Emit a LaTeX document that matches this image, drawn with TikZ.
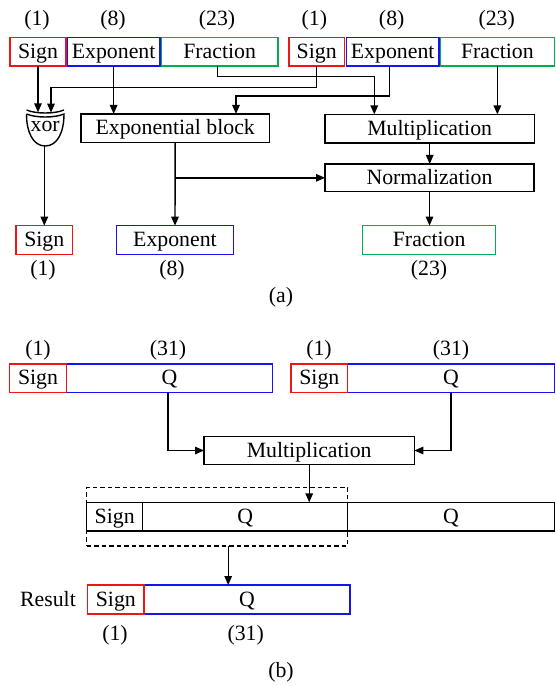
\documentclass[tikz,border=0pt]{standalone}
\usepackage{fontspec}
\setmainfont{Liberation Serif}
\usetikzlibrary{arrows.meta,positioning,fit}
\definecolor{sred}{RGB}{240,20,20}
\definecolor{sblue}{RGB}{20,20,240}
\definecolor{sgreen}{RGB}{0,176,80}

\begin{document}
\begin{tikzpicture}[x=1pt,y=-1pt,>={Triangle[length=9pt,width=7.5pt]},line width=1.4pt,
  every node/.style={font=\fontsize{21.8}{24}\selectfont,inner sep=0pt,outer sep=0pt},
  fld/.style={draw,minimum height=28.7pt,text height=16pt,text depth=2.8pt},
  redf/.style={fld,draw=sred},bluef/.style={fld,draw=sblue},greenf/.style={fld,draw=sgreen},
  blackf/.style={fld,draw=black}]
\useasboundingbox (0,0) rectangle (555,686);
% (a) two input words
\node[redf,minimum width=56pt] (sgnA) at (38,51.7) {Sign};
\node[bluef,minimum width=92.7pt,right=1.3pt of sgnA] (expA) {Exponent};
\node[greenf,minimum width=116.7pt,right=1.3pt of expA] (fracA) {Fraction};
\node[redf,minimum width=55.3pt] (sgnB) at (316.7,51.7) {Sign};
\node[bluef,minimum width=92.7pt,right=2pt of sgnB] (expB) {Exponent};
\node[greenf,minimum width=114pt,right=1.3pt of expB] (fracB) {Fraction};
\foreach \x/\t [count=\i] in {37/{(1)},113/{(8)},217/{(23)},314.3/{(1)},391.7/{(8)},496.7/{(23)}}
  \node (ta\i) at (\x,20) {\t};
% (a) blocks
\node[blackf,minimum width=188.3pt] (expblk) at (175.2,128.3) {Exponential block};
\node[blackf,minimum width=209.3pt] (multA) at (429.7,128.8) {Multiplication};
\node[blackf,minimum width=209pt,minimum height=27.7pt] (norm) at (429.5,177.8) {Normalization};
\node[redf,minimum width=56.7pt] (outS) at (44.3,240) {Sign};
\node[bluef,minimum width=116.6pt] (outE) at (175,240) {Exponent};
\node[greenf,minimum width=133pt] (outF) at (429.2,240) {Fraction};
\foreach \x/\t [count=\i] in {43/{(1)},172/{(8)},429/{(23)}}
  \node (ba\i) at (\x,270.5) {\t};
\node (capa) at (281,297) {(a)};
% xor gate
\draw (26.5,114) .. controls (26.5,132) and (33,146) .. (45.2,146) .. controls (57.5,146) and (64,132) .. (64,114) .. controls (54.5,118) and (36,118) .. (26.5,114);
\draw (26.5,110) .. controls (36,114) and (54.5,114) .. (64,110);
\node (xor) at (45.2,126.7) {xor};
\coordinate (xin1) at (38,112.3);
\coordinate (xin2) at (51,112.6);
\coordinate (xout) at (44.3,146);
\draw[->] (sgnA.south) -- (xin1);
\draw[->] (sgnB.south) -- ++(0,21.3) -| (xin2);
\draw[->] (expA.south) -- (expA.south |- expblk.north);
\draw[->] ([xshift=-3.4pt]expB.south) -- ++(0,30) -| ([xshift=60.8pt]expblk.north);
\draw[->] ([xshift=-2.4pt]fracA.south) -- ++(0,10.7) -| ([xshift=-55.4pt]multA.north);
\draw[->] (fracB.south) -- (fracB.south |- multA.north);
\draw[->] (multA.south) -- (multA.south |- norm.north);
\draw[->] (expblk.south) -- (outE.north);
\draw[->] (expblk.south |- norm.west) -- (norm.west);
\draw[->] (norm.south) -- (norm.south |- outF.north);
\draw[->] (xout) -- (xout |- outS.north);
% (b) two input words
\node[bluef,minimum width=205.6pt] (qC) at (169.5,378.3) {Q};
\node[redf,minimum width=57.4pt,left=0pt of qC] (sgnC) {Sign};
\node[bluef,minimum width=206.6pt] (qD) at (451,378.3) {Q};
\node[redf,minimum width=56.7pt,left=0pt of qD] (sgnD) {Sign};
\foreach \x/\t [count=\i] in {38/{(1)},168/{(31)},319/{(1)},451/{(31)}}
  \node (tb\i) at (\x,350) {\t};
\node[blackf,minimum width=210.3pt,minimum height=27.6pt] (multB) at (309.2,450.5) {Multiplication};
\draw[->] ([xshift=-1.5pt]qC.south) |- (multB.west);
\draw[->] (qD.south) |- (multB.east);
% (b) product and kept part
\node[blackf,minimum width=56pt] (sgnE) at (114.7,516.7) {Sign};
\node[blackf,minimum width=205pt,right=0pt of sgnE] (qE) {Q};
\node[blackf,minimum width=206.6pt,right=0pt of qE] (qF) {Q};
\node[draw,dash pattern=on 4.5pt off 3pt,fit=(sgnE)(qE),inner xsep=0pt,inner ysep=14.8pt] (keep) {};
\draw[->] (multB.south) -- (multB.south |- sgnE.north);
\node[bluef,minimum width=206pt,minimum height=29pt] (qR) at (247,599.5) {Q};
\node[redf,minimum width=56.3pt,minimum height=29pt,left=0pt of qR] (sgnR) {Sign};
\node (res) at (48,599) {Result};
\draw[->] ([xshift=11pt]keep.south) -- ([xshift=11pt]keep.south |- qR.north);
\foreach \x/\t [count=\i] in {115/{(1)},245.7/{(31)}}
  \node (bb\i) at (\x,635) {\t};
\node (capb) at (281,672) {(b)};
\end{tikzpicture}
\end{document}
